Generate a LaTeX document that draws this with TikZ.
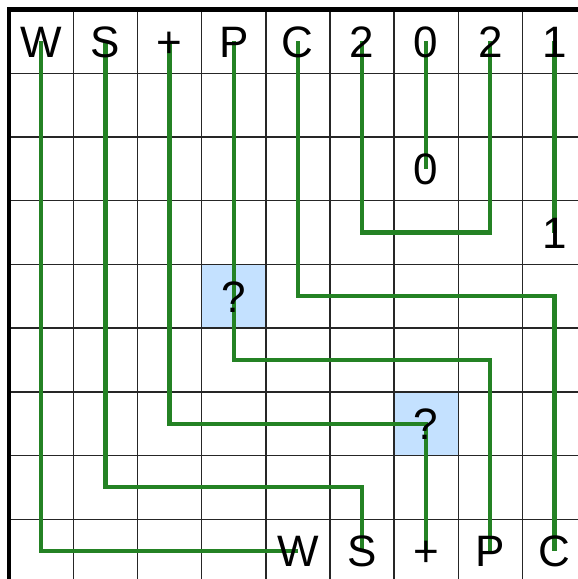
\documentclass[tikz,border=0pt]{standalone}
\usepackage{fontspec}
\setmainfont{Liberation Sans}
\pgfdeclarelayer{background}
\pgfsetlayers{background,main}
\definecolor{wire}{RGB}{36,130,36}
\definecolor{qfill}{RGB}{196,225,255}
\begin{document}
\begin{tikzpicture}[x=1pt,y=1pt,
  lbl/.style={inner sep=0pt, text height=31.5pt, text depth=0pt, font=\fontsize{44}{44}\selectfont},
  gridline/.style={line width=1.4pt, draw=black!85},
  frame/.style={line width=4.5pt, draw=black},
  wirepath/.style={line width=4.2pt, draw=wire, line join=miter},
  qcell/.style={fill=qfill, draw=none}]
\useasboundingbox (0,0) rectangle (578,-579);
\clip (0,0) rectangle (578,-579);
\begin{scope}[shift={(9.2,-9.6)}, x=64.15pt, y=-63.7pt]
  % top row labels
  \node[lbl] (t0) at (0.5,0.5) {W};
  \node[lbl] (t1) at (1.5,0.5) {S};
  \node[lbl] (t2) at (2.5,0.5) {+};
  \node[lbl] (t3) at (3.5,0.5) {P};
  \node[lbl] (t4) at (4.5,0.5) {C};
  \node[lbl] (t5) at (5.5,0.5) {2};
  \node[lbl] (t6) at (6.5,0.5) {0};
  \node[lbl] (t7) at (7.5,0.5) {2};
  \node[lbl] (t8) at (8.5,0.5) {1};
  % middle labels
  \node[lbl] (m0) at (6.5,2.5) {0};
  \node[lbl] (m1) at (8.5,3.5) {1};
  \node[lbl] (q1) at (3.5,4.5) {?};
  \node[lbl] (q2) at (6.5,6.5) {?};
  % bottom row labels
  \node[lbl] (b4) at (4.5,8.5) {W};
  \node[lbl] (b5) at (5.5,8.5) {S};
  \node[lbl] (b6) at (6.5,8.5) {+};
  \node[lbl] (b7) at (7.5,8.5) {P};
  \node[lbl] (b8) at (8.5,8.5) {C};
  \begin{pgfonlayer}{background}
    \fill[qcell] (3,4) rectangle (4,5);
    \fill[qcell] (6,6) rectangle (7,7);
    \foreach \k in {1,...,8} {
      \draw[gridline] (\k,0) -- (\k,9);
      \draw[gridline] (0,\k) -- (9,\k);
    }
    \draw[frame] (0,0) rectangle (9,9);
    \draw[wirepath] (t0.center) |- (b4.center);
    \draw[wirepath] (t1.center) -- ++(0,7) -| (b5.center);
    \draw[wirepath] (t2.center) -- ++(0,6) -| (b6.center);
    \draw[wirepath] (t3.center) -- ++(0,5) -| (b7.center);
    \draw[wirepath] (t4.center) -- ++(0,4) -| (b8.center);
    \draw[wirepath] (t5.center) -- ++(0,3) -| (t7.center);
    \draw[wirepath] (t6.center) -- (m0.center);
    \draw[wirepath] (t8.center) -- (m1.center);
  \end{pgfonlayer}
\end{scope}
\end{tikzpicture}
\end{document}
